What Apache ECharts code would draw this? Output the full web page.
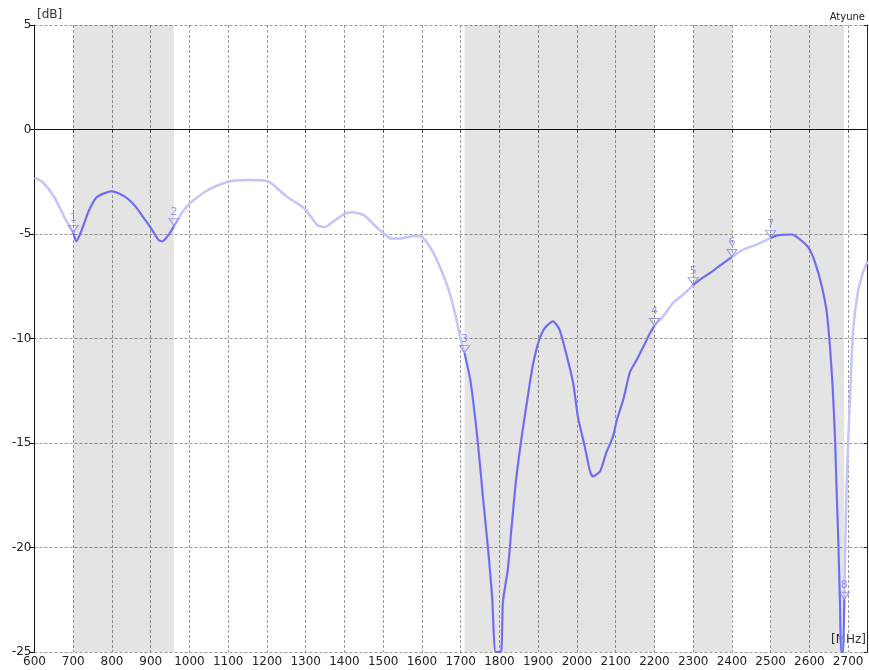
<!DOCTYPE html>
<html>
<head>
<meta charset="utf-8">
<script src="https://cdn.jsdelivr.net/npm/echarts@6/dist/echarts.min.js"></script>
<style>
  html, body { margin: 0; padding: 0; background: #fff; }
  #main { width: 869px; height: 670px; }
</style>
</head>
<body>
<div id="main"></div>
<script>
var freq = [600, 620, 650, 680, 700, 708, 720, 740, 760, 780, 800, 820, 840, 860, 880, 900, 920, 930, 945, 960,
  980, 1000, 1050, 1100, 1150, 1200, 1220, 1250, 1280, 1300, 1330, 1350, 1370, 1400, 1420, 1450, 1480, 1500,
  1520, 1550, 1580, 1600, 1620, 1640, 1660, 1674, 1687, 1700, 1710, 1725, 1738, 1747, 1757, 1770, 1781, 1790,
  1804, 1809, 1822, 1831, 1843, 1859, 1873, 1886, 1902, 1917, 1938, 1955, 1972, 1990, 2003, 2020, 2033, 2041,
  2060, 2075, 2093, 2103, 2120, 2137, 2155, 2172, 2189, 2200, 2223, 2248, 2274, 2300, 2318, 2344, 2370, 2400,
  2430, 2465, 2500, 2516, 2555, 2576, 2598, 2615, 2632, 2645, 2653, 2660, 2666, 2670, 2675, 2679, 2682, 2687,
  2690, 2696, 2700, 2706, 2713, 2725, 2738, 2750];
var s11 = [-2.3, -2.5, -3.2, -4.3, -4.95, -5.35, -4.9, -3.9, -3.25, -3.05, -2.95, -3.08, -3.3, -3.67, -4.18, -4.7, -5.28, -5.35, -5.07, -4.63,
  -4.0, -3.55, -2.87, -2.5, -2.42, -2.47, -2.7, -3.2, -3.56, -3.83, -4.58, -4.67, -4.42, -4.04, -3.96, -4.1, -4.63, -4.95,
  -5.22, -5.2, -5.1, -5.15, -5.6, -6.3, -7.2, -7.98, -8.93, -10.05, -10.7, -12.0, -13.9, -15.5, -17.5, -19.95, -22.3, -25,
  -25, -22.6, -21.0, -19.1, -16.75, -14.5, -12.8, -11.3, -10.1, -9.5, -9.17, -9.57, -10.7, -12.1, -13.8, -15.15, -16.3, -16.6,
  -16.35, -15.5, -14.7, -13.9, -12.9, -11.6, -11.0, -10.37, -9.73, -9.4, -8.93, -8.3, -7.9, -7.45, -7.18, -6.86, -6.5, -6.1,
  -5.74, -5.5, -5.2, -5.07, -5.02, -5.26, -5.66, -6.38, -7.5, -8.77, -10.37, -12.3, -14.7, -17.1, -19.9, -22.7, -25, -25,
  -22.5, -17.1, -15.0, -12.3, -9.57, -7.8, -6.86, -6.3];

// operating bands (shaded)
var bandStart = [700, 1710, 2300, 2500];
var bandEnd = [960, 2200, 2400, 2690];

// markers
var markerFreq = [700, 960, 1710, 2200, 2300, 2400, 2500, 2690];
var markerVal = [-4.95, -4.63, -10.7, -9.4, -7.45, -6.1, -5.2, -22.5];

var chart = echarts.init(document.getElementById('main'));

var FONT = 'DejaVu Sans';

function inBand(f) {
  for (var i = 0; i < bandStart.length; i++) {
    if (f >= bandStart[i] && f <= bandEnd[i]) return true;
  }
  return false;
}

var fullData = freq.map(function (f, i) { return [f, s11[i]]; });
var bandData = freq.map(function (f, i) { return [f, inBand(f) ? s11[i] : '-']; });
var markerData = markerFreq.map(function (f, i) { return { value: [f, markerVal[i]], name: String(i + 1) }; });
var areas = bandStart.map(function (s, i) { return [{ xAxis: s }, { xAxis: bandEnd[i] }]; });

var option = {
  animation: false,
  grid: { left: 34.5, right: 1.5, top: 25, bottom: 18 },
  xAxis: [
    {
      type: 'value', min: 600, max: 2750, interval: 100,
      axisLine: { lineStyle: { color: '#111' } },
      axisTick: { show: false },
      axisLabel: {
        color: '#222', fontFamily: FONT, fontSize: 12, margin: 4, showMaxLabel: false,
        formatter: function (v) { return String(v); }
      },
      splitLine: { show: true, lineStyle: { color: '#999', type: [3, 2] } }
    },
    {
      type: 'value', position: 'top', min: 600, max: 2750, interval: 100,
      axisLine: { show: true, lineStyle: { color: '#aaa' } },
      axisTick: { show: true, inside: true, length: 3, lineStyle: { color: '#333' } },
      axisLabel: { show: false },
      splitLine: { show: false }
    }
  ],
  yAxis: [
    {
      type: 'value', min: -25, max: 5, interval: 5,
      axisLine: { show: true, lineStyle: { color: '#111' } },
      axisTick: { show: true, length: 5, lineStyle: { color: '#111' } },
      axisLabel: { color: '#222', fontFamily: FONT, fontSize: 12, margin: 3 },
      splitLine: { show: true, lineStyle: { color: '#999', type: [3, 2] } }
    },
    {
      type: 'value', position: 'right', min: -25, max: 5, interval: 5,
      axisLine: { show: true, lineStyle: { color: '#222' } },
      axisTick: { show: true, inside: true, length: 4, lineStyle: { color: '#222' } },
      axisLabel: { show: false },
      splitLine: { show: false }
    }
  ],
  graphic: [
    { type: 'text', left: 37, top: 9, style: { text: '[dB]', fill: '#333', font: '12px "DejaVu Sans"' } },
    { type: 'text', right: 4, top: 12, style: { text: 'Atyune', fill: '#222', font: '10px "DejaVu Sans"' } },
    { type: 'text', right: 3, top: 634, style: { text: '[MHz]', fill: '#333', font: '12px "DejaVu Sans"' } }
  ],
  series: [
    {
      name: 'full',
      type: 'line',
      data: fullData,
      symbol: 'none',
      smooth: 0.2,
      clip: true,
      lineStyle: { color: '#c4c4fd', width: 2.5 },
      markArea: {
        silent: true,
        itemStyle: { color: 'rgba(0,0,0,0.105)' },
        data: areas
      },
      markLine: {
        silent: true,
        symbol: 'none',
        label: { show: false },
        lineStyle: { color: '#111', type: 'solid', width: 1 },
        data: [{ yAxis: 0 }]
      }
    },
    {
      name: 'band',
      type: 'line',
      data: bandData,
      symbol: 'none',
      smooth: 0.2,
      clip: true,
      connectNulls: false,
      lineStyle: { color: '#6c6cf0', width: 2 }
    },
    {
      name: 'markers',
      type: 'scatter',
      data: markerData,
      symbol: 'triangle',
      symbolRotate: 180,
      symbolSize: [10, 7],
      symbolOffset: [0, -4],
      itemStyle: { color: 'rgba(255,255,255,0)', borderColor: '#7f7fee', borderWidth: 1 },
      label: {
        show: true, position: 'top', distance: 1,
        formatter: function (p) { return p.name; },
        color: '#8080ee', fontFamily: FONT, fontSize: 11
      },
      z: 5
    }
  ]
};

chart.setOption(option);
</script>
</body>
</html>
